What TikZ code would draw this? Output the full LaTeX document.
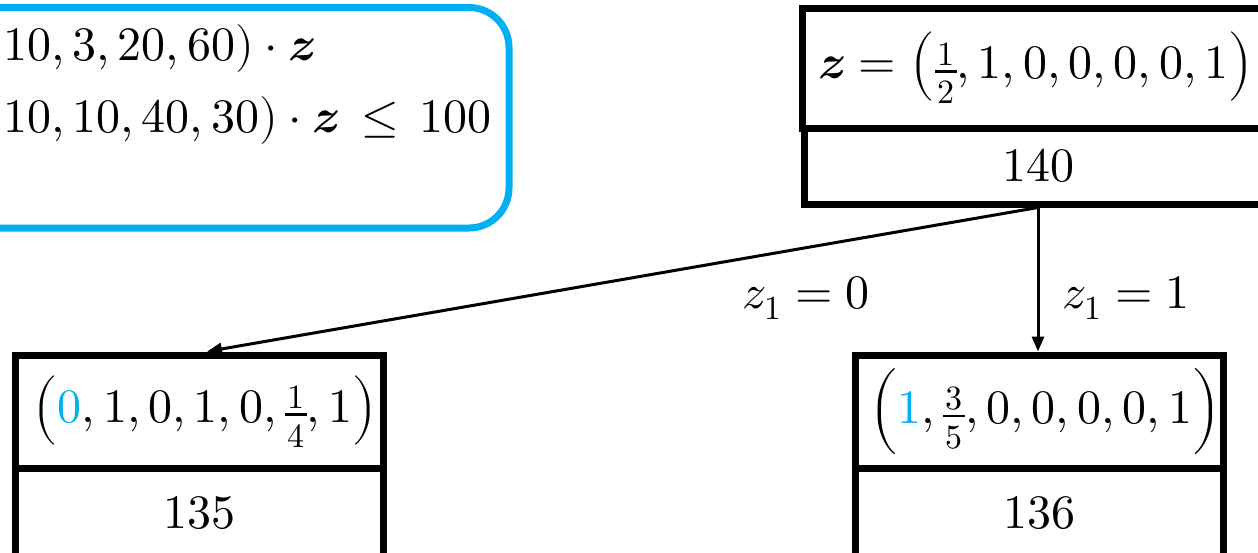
\documentclass[tikz,border=0pt]{standalone}
\usepackage{unicode-math}
\setmathfont{Latin Modern Math}
\usetikzlibrary{arrows.meta}
\definecolor{skyline}{RGB}{0,176,240}
% stacked fraction: small figures, bar on the axis, denominator set low
\newcommand\fracdigit[1]{\hbox to 22pt{\hss\fontsize{34}{34}\selectfont$#1$\hss}}
\newcommand\lowfrac[2]{\mathord{\raisebox{-25pt}{\vbox{\fracdigit{#1}\kern4.5pt
  \hrule height 2.5pt\kern8.4pt\fracdigit{#2}}}}}
\tikzset{
  bigtext/.style={font=\fontsize{48}{58}\selectfont},
  cell/.style={draw=black, line width=7pt, inner sep=0pt, minimum width=368pt, bigtext},
  branch/.style={line width=3pt, -{Triangle[length=15pt,width=12pt]}},
  lbl/.style={bigtext, inner sep=0pt, anchor=base west},
}
\begin{document}
\begin{tikzpicture}[x=1pt,y=-1pt]
\useasboundingbox (0,0) rectangle (1258,552);
\clip (0,0) rectangle (1258,552);

% model box
\node[draw=skyline, line width=7pt, rounded corners=40pt, inner sep=0pt,
      minimum width=609pt, minimum height=220.5pt] (model) at (204.5,117.75) {};
\node[lbl] (obj) at (3,60) {$10,3,20,60)\cdot\symbfit{z}$};
\node[lbl] (cons) at (3,132) {$10,10,40,30)\cdot\symbfit{z}\,\le\, 100$};

% root node
\node[cell, minimum width=468pt, minimum height=120pt] (rootvec) at (1036,68)
  {$\symbfit{z}=\left(\lowfrac{1}{2},1,0,0,0,0,1\right)$};
\node[cell, minimum width=468pt, minimum height=76pt] (rootval) at (1038,166) {$140$};

% left child
\node[cell, minimum height=113pt] (lvec) at (199,411.5)
  {\hspace{12pt}$\left(\textcolor{skyline}{0},1,0,1,0,\lowfrac{1}{4},1\right)$};
\node[cell, minimum height=90pt] (lval) at (199,513) {$135$};

% right child
\node[cell, minimum height=113pt] (rvec) at (1039,411.5)
  {\hspace{12pt}$\left(\textcolor{skyline}{1},\lowfrac{3}{5},0,0,0,0,1\right)$};
\node[cell, minimum height=90pt] (rval) at (1039,513) {$136$};

% branches
\draw[branch] (rootval.south) -- ([xshift=8pt]lvec.north);
\draw[branch] (rootval.south) -- (rootval.south |- rvec.north);
\node[lbl] (left) at (742,308) {$z_1=0$};
\node[lbl] (right) at (1062,308) {$z_1=1$};
\end{tikzpicture}
\end{document}
